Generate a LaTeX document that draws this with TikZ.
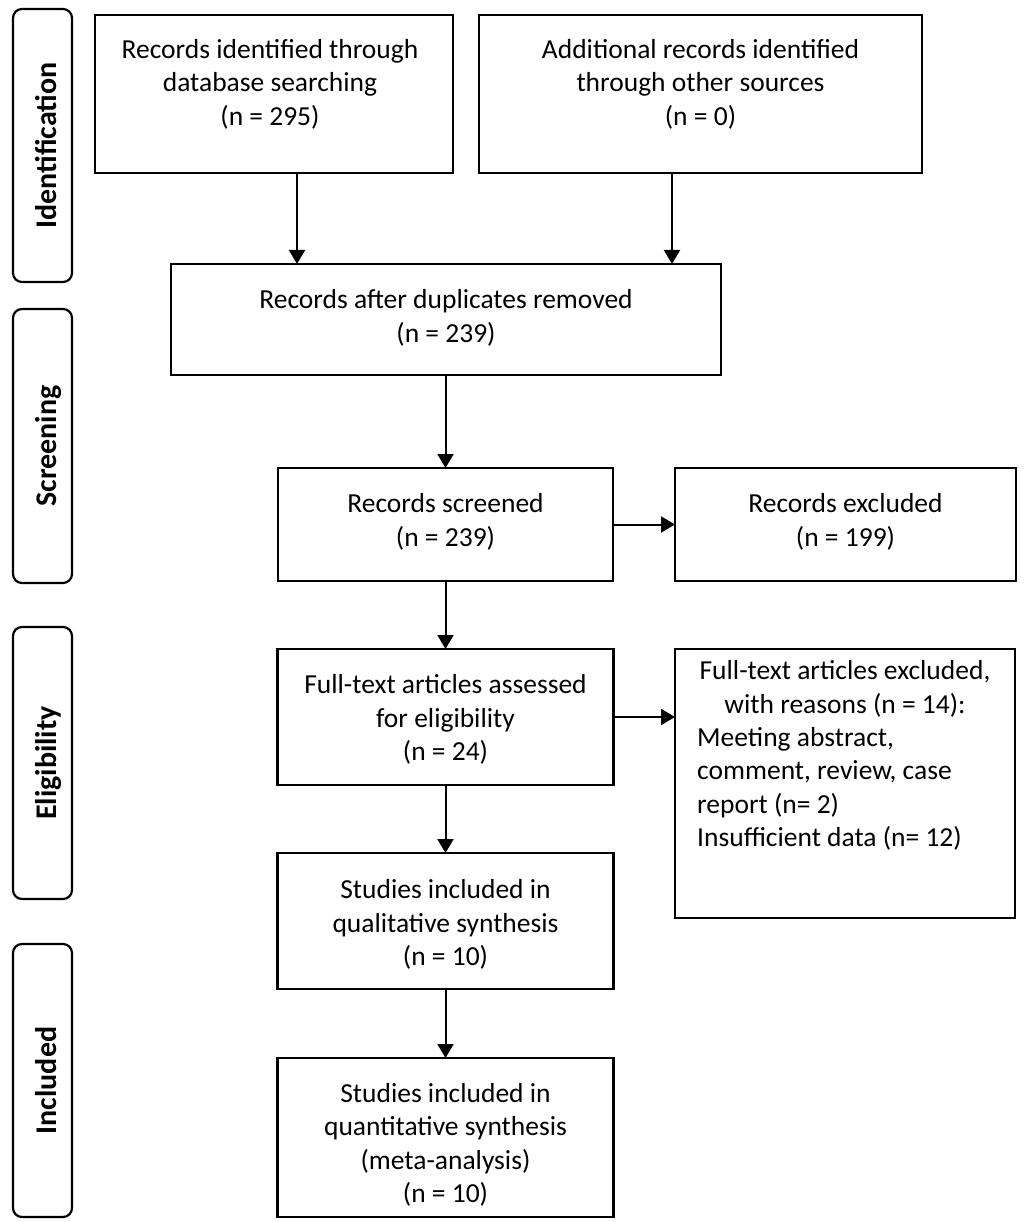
\documentclass[tikz,border=0pt]{standalone}
\usepackage{fontspec}
\setmainfont{Carlito}
\usetikzlibrary{arrows.meta}
\begin{document}
\begin{tikzpicture}[x=1pt,y=-1pt,
  box/.style={draw, line width=2.2pt, inner sep=0pt, outer sep=0pt},
  stage/.style={draw, line width=2.2pt, rounded corners=9pt, inner sep=0pt, outer sep=0pt, minimum width=59pt},
  stagetxt/.style={rotate=90, anchor=base, inner sep=0pt, font=\fontsize{30}{36}\selectfont\bfseries},
  txt/.style={anchor=base, inner sep=0pt, align=center, font=\fontsize{27.5}{33.5}\selectfont},
  ltxt/.style={anchor=base west, inner sep=0pt, align=left, font=\fontsize{27.5}{33.5}\selectfont},
  arr/.style={line width=2pt, -{Triangle[length=14pt,width=16pt]}, shorten >=0pt}]
\useasboundingbox (0,0) rectangle (1028,1222);

% stage labels
\node[stage, minimum height=273pt] (s1) at (42.5,145.5) {};
\node[stagetxt] (s1t) at (56,145.5) {Identification};
\node[stage, minimum height=274pt] (s2) at (42.5,446) {};
\node[stagetxt] (s2t) at (56,446) {Screening};
\node[stage, minimum height=272pt] (s3) at (42.5,763) {};
\node[stagetxt] (s3t) at (56,763) {Eligibility};
\node[stage, minimum height=273pt] (s4) at (42.5,1080.5) {};
\node[stagetxt] (s4t) at (56,1080.5) {Included};

% boxes
\node[box, minimum width=358pt, minimum height=158pt] (b1) at (274,94) {};
\node[box, minimum width=443pt, minimum height=158pt] (b2) at (700.5,94) {};
\node[box, minimum width=550pt, minimum height=111pt] (b3) at (446,319.5) {};
\node[box, minimum width=335pt, minimum height=113pt] (b4) at (445.5,524.5) {};
\node[box, minimum width=341pt, minimum height=113pt] (b5) at (845.5,524.5) {};
\node[box, minimum width=336pt, minimum height=136pt] (b6) at (445.5,717) {};
\node[box, minimum width=340pt, minimum height=269pt] (b7) at (845,783.5) {};
\node[box, minimum width=336pt, minimum height=136pt] (b8) at (445.5,921) {};
\node[box, minimum width=336pt, minimum height=159pt] (b9) at (445.5,1137.5) {};

% texts (anchor = baseline of last line)
\node[txt] (t1) at (270,125.5) {Records identified through\\database searching\\(n = 295)};
\node[txt] (t2) at (700.5,125.5) {Additional records identified\\through other sources\\(n = 0)};
\node[txt] (t3) at (446,342) {Records after duplicates removed\\(n = 239)};
\node[txt] (t4) at (445.5,546) {Records screened\\(n = 239)};
\node[txt] (t5) at (845.5,546) {Records excluded\\(n = 199)};
\node[txt] (t6) at (445.5,760.5) {Full-text articles assessed\\for eligibility\\(n = 24)};
\node[txt] (t7) at (845,713) {Full-text articles excluded,\\with reasons (n = 14):};
\node[ltxt] (t7b) at (697,846.8) {Meeting abstract,\\comment, review, case\\report (n= 2)\\Insufficient data (n= 12)};
\node[txt] (t8) at (445.5,965.5) {Studies included in\\qualitative synthesis\\(n = 10)};
\node[txt] (t9) at (445.5,1202.5) {Studies included in\\quantitative synthesis\\(meta-analysis)\\(n = 10)};

% connectors
\coordinate (x1) at (297,0);
\coordinate (x2) at (672,0);
\draw[arr] (b1.south -| x1) -- (b3.north -| x1);
\draw[arr] (b2.south -| x2) -- (b3.north -| x2);
\draw[arr] (b3.south -| b4.north) -- (b4.north);
\draw[arr] (b4.east) -- (b5.west);
\draw[arr] (b4.south) -- (b6.north);
\draw[arr] (b6.east) -- (b6.east -| b7.west);
\draw[arr] (b6.south) -- (b8.north);
\draw[arr] (b8.south) -- (b9.north);
\end{tikzpicture}
\end{document}
